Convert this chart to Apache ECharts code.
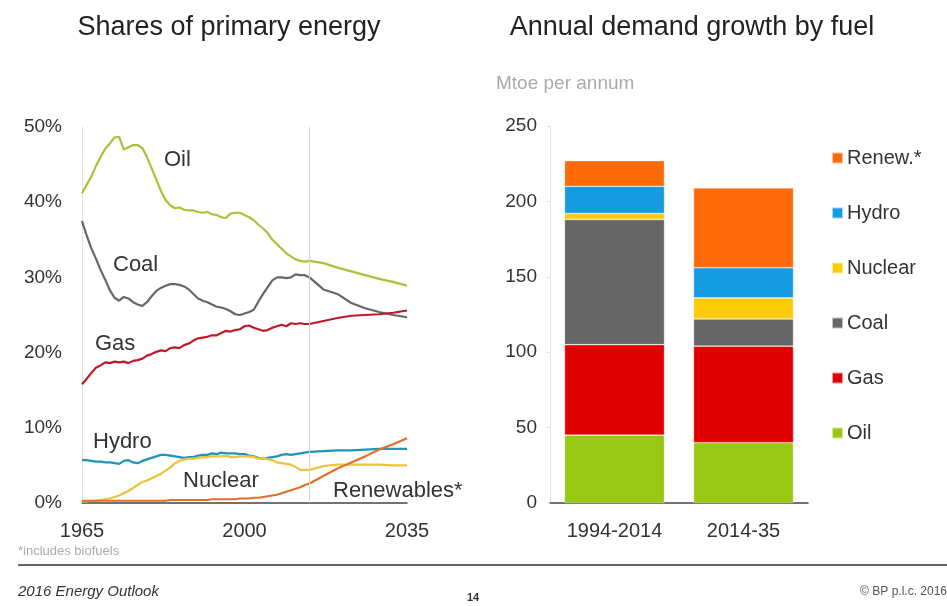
<!DOCTYPE html>
<html>
<head>
<meta charset="utf-8">
<script src="https://cdn.jsdelivr.net/npm/echarts@6/dist/echarts.min.js"></script>
<style>
  html, body { margin: 0; padding: 0; background: #fff; }
  #chart { width: 947px; height: 606px; }
</style>
</head>
<body>
<div id="chart"></div>
<script>
// years of the share lines (annual history, projections every 3 years)
var years = [1965,1966,1967,1968,1969,1970,1971,1972,1973,1974,1975,1976,1977,1978,1979,
  1980,1981,1982,1983,1984,1985,1986,1987,1988,1989,1990,1991,1992,1993,1994,1995,1996,1997,
  1998,1999,2000,2001,2002,2003,2004,2005,2006,2007,2008,2009,2010,2011,2012,2013,2014,
  2017,2020,2023,2026,2029,2032,2035];

// shares of primary energy, %
var oilShare = [41.2,42.3,43.4,44.8,46.0,47.1,47.8,48.6,48.7,47.0,47.3,47.6,47.6,47.2,46.0,
  44.5,43.0,41.5,40.3,39.6,39.2,39.3,39.0,38.9,38.9,38.7,38.6,38.7,38.4,38.3,38.0,37.9,38.5,
  38.6,38.6,38.3,38.0,37.6,37.0,36.5,35.9,35.0,34.4,33.8,33.2,32.8,32.4,32.2,32.1,32.2,
  31.9,31.3,30.8,30.3,29.8,29.4,28.9];
var coalShare = [37.5,35.6,33.9,32.5,31.0,29.7,28.3,27.3,26.9,27.4,27.2,26.7,26.4,26.2,26.7,
  27.5,28.2,28.6,28.9,29.1,29.1,29.0,28.8,28.4,27.8,27.2,26.9,26.7,26.4,26.1,26.0,25.8,25.5,
  25.1,25.0,25.2,25.4,25.7,26.8,27.8,28.7,29.6,30.0,30.0,29.9,30.0,30.4,30.3,30.3,30.0,
  28.4,27.8,26.6,25.9,25.4,25.0,24.7];
var gasShare = [15.8,16.5,17.3,18.0,18.3,18.7,18.6,18.8,18.7,18.8,18.6,18.9,19.0,19.2,19.6,
  19.8,20.1,20.3,20.2,20.6,20.7,20.6,21.0,21.2,21.6,21.9,22.0,22.1,22.3,22.3,22.6,22.9,22.8,
  23.0,23.1,23.5,23.6,23.3,23.1,22.9,23.0,23.3,23.5,23.7,23.5,23.9,23.8,23.9,23.8,23.8,
  24.2,24.6,24.9,25.0,25.1,25.3,25.6];
var hydroShare = [5.7,5.7,5.6,5.5,5.5,5.4,5.4,5.3,5.2,5.6,5.7,5.4,5.3,5.6,5.8,
  6.0,6.2,6.4,6.4,6.3,6.2,6.1,6.0,6.1,6.1,6.3,6.4,6.4,6.6,6.5,6.7,6.6,6.6,
  6.6,6.5,6.5,6.3,6.2,6.0,5.9,6.0,6.1,6.2,6.4,6.5,6.4,6.5,6.6,6.7,6.8,
  6.9,7.0,7.0,7.1,7.2,7.2,7.2];
var nuclearShare = [0.2,0.2,0.3,0.3,0.4,0.5,0.6,0.8,1.0,1.3,1.6,2.0,2.4,2.8,3.0,
  3.3,3.6,3.9,4.3,4.7,5.3,5.6,5.8,5.9,5.9,6.0,6.1,6.1,6.2,6.2,6.2,6.3,6.1,
  6.1,6.2,6.2,6.2,6.1,5.9,6.0,5.8,5.7,5.4,5.3,5.2,5.1,4.8,4.4,4.4,4.4,
  4.9,5.1,5.1,5.1,5.1,5.0,5.0];
var renewShare = [0.3,0.3,0.3,0.3,0.3,0.3,0.3,0.3,0.3,0.3,0.3,0.3,0.3,0.3,0.3,
  0.3,0.3,0.3,0.3,0.4,0.4,0.4,0.4,0.4,0.4,0.4,0.4,0.4,0.5,0.5,0.5,0.5,0.5,
  0.5,0.6,0.6,0.6,0.7,0.7,0.8,0.9,1.0,1.1,1.3,1.5,1.7,1.9,2.1,2.4,2.6,
  3.6,4.6,5.4,6.2,7.1,7.8,8.6];

// annual demand growth, Mtoe per annum
var periods = ['1994-2014', '2014-35'];
var oilGrowth = [45, 40];
var gasGrowth = [60, 64];
var coalGrowth = [83, 18];
var nuclearGrowth = [4, 14];
var hydroGrowth = [18, 20];
var renewGrowth = [17, 53];

var FONT = '"Liberation Sans", Arial, sans-serif';

function pairs(arr) {
  return years.map(function (y, i) { return [y, arr[i]]; });
}

function shareLine(name, data, color) {
  return {
    name: name, type: 'line', xAxisIndex: 0, yAxisIndex: 0,
    data: pairs(data), showSymbol: false, z: 3,
    lineStyle: { color: color, width: 2.2 }, itemStyle: { color: color }
  };
}

function growthBar(name, data, color) {
  return {
    name: name, type: 'bar', xAxisIndex: 1, yAxisIndex: 1, stack: 'growth',
    data: data, barWidth: 100,
    itemStyle: { color: color, borderColor: 'rgba(255,255,255,0.6)', borderWidth: 0.6 }
  };
}

// text placed by its anchor point (x, y)
function label(text, x, y, opts) {
  opts = opts || {};
  return {
    type: 'text', x: x, y: y, silent: true,
    style: { text: text, font: opts.font || ('22px ' + FONT), fill: opts.fill || '#333',
      textAlign: opts.align || 'left', textVerticalAlign: 'middle' }
  };
}

var chart = echarts.init(document.getElementById('chart'));
chart.setOption({
  animation: false,
  backgroundColor: '#fff',
  textStyle: { fontFamily: FONT },
  grid: [
    { left: 82, top: 127, width: 325, height: 376 },
    { left: 550, top: 126, width: 258, height: 377 }
  ],
  xAxis: [
    { type: 'value', gridIndex: 0, min: 1965, max: 2035, interval: 35,
      splitLine: { show: false }, axisTick: { show: false },
      axisLine: { lineStyle: { color: '#444', width: 1.5 } },
      axisLabel: { color: '#333', fontSize: 20, margin: 18,
        formatter: function (v) { return String(v); } } },
    { type: 'category', gridIndex: 1, data: periods,
      axisTick: { show: false },
      axisLine: { lineStyle: { color: '#444', width: 1.5 } },
      axisLabel: { color: '#333', fontSize: 20, margin: 18 } }
  ],
  yAxis: [
    { type: 'value', gridIndex: 0, min: 0, max: 50, interval: 10,
      splitLine: { show: false },
      axisLine: { show: true, lineStyle: { color: '#e2e2e2' } },
      axisTick: { show: false },
      axisLabel: { color: '#333', fontSize: 19, margin: 20, formatter: '{value}%' } },
    { type: 'value', gridIndex: 1, min: 0, max: 250, interval: 50,
      splitLine: { show: false },
      axisLine: { show: true, lineStyle: { color: '#e2e2e2' } },
      axisTick: { show: true, length: 3, lineStyle: { color: '#ddd' } },
      axisLabel: { color: '#333', fontSize: 19, margin: 13 } }
  ],
  legend: {
    data: ['Renew.*', 'Hydro', 'Nuclear', 'Coal', 'Gas', 'Oil'],
    orient: 'vertical', left: 831, top: 148, padding: 0,
    itemWidth: 11, itemHeight: 11, itemGap: 35, icon: 'rect',
    selectedMode: false,
    textStyle: { color: '#333', fontSize: 20, padding: [0, 0, 0, -1] }
  },
  series: [
    { name: 'divider', type: 'line', xAxisIndex: 0, yAxisIndex: 0, data: [], z: 1,
      markLine: { symbol: 'none', silent: true, label: { show: false },
        lineStyle: { color: '#d4d4d4', width: 1, type: 'solid' },
        data: [{ xAxis: 2014 }] } },
    shareLine('Oil share', oilShare, '#a5c43a'),
    shareLine('Coal share', coalShare, '#65676a'),
    shareLine('Gas share', gasShare, '#c0182a'),
    shareLine('Hydro share', hydroShare, '#1f94b8'),
    shareLine('Nuclear share', nuclearShare, '#e9c43c'),
    shareLine('Renewables share', renewShare, '#e0702c'),
    growthBar('Oil', oilGrowth, '#99c814'),
    growthBar('Gas', gasGrowth, '#e00000'),
    growthBar('Coal', coalGrowth, '#666666'),
    growthBar('Nuclear', nuclearGrowth, '#fccb0a'),
    growthBar('Hydro', hydroGrowth, '#149be0'),
    growthBar('Renew.*', renewGrowth, '#fd6a0a')
  ],
  graphic: [
    label('Shares of primary energy', 229, 28, { font: '27px ' + FONT, fill: '#222', align: 'center' }),
    label('Annual demand growth by fuel', 692, 28, { font: '27px ' + FONT, fill: '#222', align: 'center' }),
    label('Mtoe per annum', 496, 84, { font: '19px ' + FONT, fill: '#aaa' }),
    label('Oil', 164, 160),
    label('Coal', 113, 265),
    label('Gas', 95, 344),
    label('Hydro', 93, 442),
    label('Nuclear', 183, 481),
    label('Renewables*', 333, 491),
    label('*includes biofuels', 18, 551, { font: '13px ' + FONT, fill: '#aaa' }),
    { type: 'rect', x: 18, y: 564, shape: { width: 929, height: 2 },
      style: { fill: '#666' }, silent: true },
    label('2016 Energy Outlook', 18, 592, { font: 'italic 15px ' + FONT, fill: '#333' }),
    label('14', 473, 598, { font: 'bold 11px ' + FONT, fill: '#333', align: 'center' }),
    label('\u00a9 BP p.l.c. 2016', 947, 592, { font: '12px ' + FONT, fill: '#555', align: 'right' })
  ]
});
</script>
</body>
</html>
